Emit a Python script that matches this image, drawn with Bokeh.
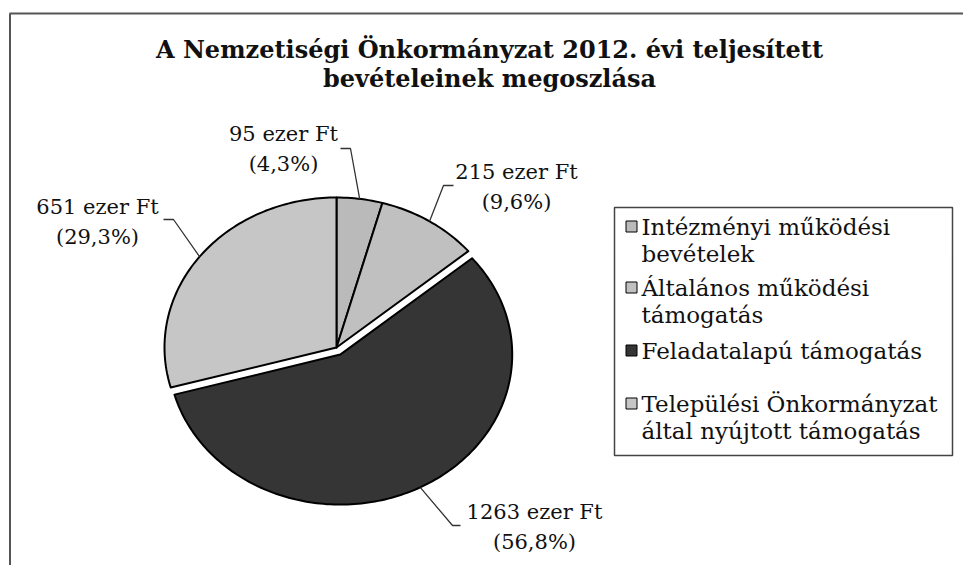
import math
from bokeh.plotting import figure
from bokeh.models import Range1d
from bokeh.core.properties import value
from bokeh.embed import file_html
from bokeh.resources import INLINE

# ---- data ----
title_lines = ["A Nemzetiségi Önkormányzat 2012. évi teljesített",
               "bevételeinek megoszlása"]
legend_lines = [["Intézményi működési", "bevételek"],
                ["Általános működési", "támogatás"],
                ["Feladatalapú támogatás"],
                ["Települési Önkormányzat", "által nyújtott támogatás"]]
values_eft = [95, 215, 1263, 651]
percents = [4.3, 9.6, 56.8, 29.3]

# ---- styles / layout ----
colors = ["#bababa", "#c0c0c0", "#353535", "#c6c6c6"]
explode = [0, 0, 8, 0]
cx, cy, rx, ry = 336, 347, 172, 150
# label layout (same order as the data): label center x, first line y
label_pos = [(283, 133), (516, 171), (534, 511), (97, 206)]
elbow = [(350, 148), (443, 185), (452, 525), (173, 219)]
leader_end = [340, 453, 460, 163]
line_gap = 30
SERIF = value("DejaVu Serif")

p = figure(width=963, height=565, x_range=Range1d(0, 963), y_range=Range1d(565, 0),
           output_backend="svg", toolbar_location=None, min_border=0)
p.axis.visible = False
p.grid.visible = False
p.outline_line_color = None
p.background_fill_color = "white"
p.border_fill_color = "white"

# outer frame (partially cropped in the scan)
p.segment(x0=[9.5, 9], y0=[13, 13], x1=[9.5, 963], y1=[565, 13], line_color="#555555", line_width=2)

# title
p.text(x=[489, 489], y=[49, 78], text=title_lines, text_font=SERIF, text_font_style="bold",
       text_font_size="24px", text_align="center", text_baseline="middle", text_color="#111111")

# pie slices
total = sum(percents)
start = 0.0
xs, ys, anchors = [], [], []
for pc, d in zip(percents, explode):
    a0 = start / total * 2 * math.pi
    a1 = (start + pc) / total * 2 * math.pi
    mid = (a0 + a1) / 2
    ox, oy = d * math.sin(mid), -d * math.cos(mid)
    n = max(3, int((a1 - a0) / 0.02))
    px = [cx + ox]
    py = [cy + oy]
    for i in range(n + 1):
        t = a0 + (a1 - a0) * i / n
        px.append(cx + ox + rx * math.sin(t))
        py.append(cy + oy - ry * math.cos(t))
    xs.append(px)
    ys.append(py)
    anchors.append((cx + ox + rx * math.sin(mid), cy + oy - ry * math.cos(mid)))
    start += pc

p.patches(xs=xs, ys=ys, fill_color=colors, line_color="black", line_width=2, line_join="round")

# leader lines
lx = [[a[0], e[0], t] for a, e, t in zip(anchors, elbow, leader_end)]
ly = [[a[1], e[1], e[1]] for a, e in zip(anchors, elbow)]
p.multi_line(xs=lx, ys=ly, line_color="#333333", line_width=1.3)

# data labels
l1 = [f"{v} ezer Ft" for v in values_eft]
l2 = ["(" + f"{pc:.1f}".replace(".", ",") + "%)" for pc in percents]
p.text(x=[q[0] for q in label_pos], y=[q[1] for q in label_pos], text=l1, text_font=SERIF,
       text_font_size="21px", text_align="center", text_baseline="middle", text_color="#111111")
p.text(x=[q[0] for q in label_pos], y=[q[1] + line_gap for q in label_pos], text=l2, text_font=SERIF,
       text_font_size="21px", text_align="center", text_baseline="middle", text_color="#111111")

# legend
p.quad(left=[614], right=[952], top=[207], bottom=[455], fill_color="white",
       line_color="#444444", line_width=1.5)
entry_y = [226, 287, 350, 403]
p.rect(x=[631] * 4, y=entry_y, width=11, height=11, fill_color=colors, line_color="black", line_width=1)
tx, ty, tt = [], [], []
for ey, lines in zip(entry_y, legend_lines):
    for k, s in enumerate(lines):
        tx.append(641)
        ty.append(ey + k * 27)
        tt.append(s)
p.text(x=tx, y=ty, text=tt, text_font=SERIF, text_font_size="23px", text_align="left",
       text_baseline="middle", text_color="#111111")

open("out.html", "w").write(file_html(p, INLINE))
